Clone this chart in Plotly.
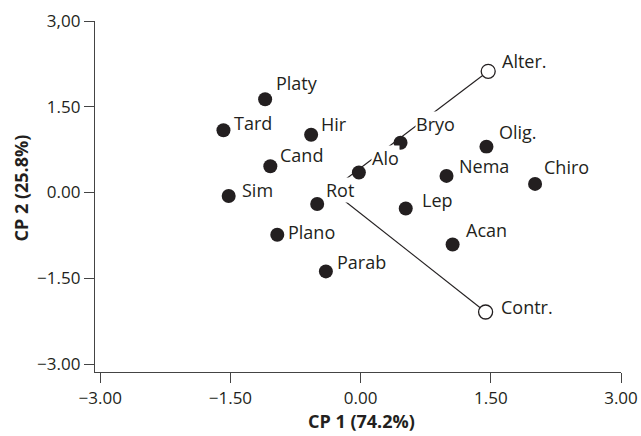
import plotly.graph_objects as go

# ---- data ----
taxa = ["Platy", "Tard", "Hir", "Cand", "Sim", "Rot", "Plano", "Parab",
        "Alo", "Bryo", "Olig.", "Nema", "Chiro", "Lep", "Acan"]
cp1 = [-1.10, -1.58, -0.57, -1.04, -1.52, -0.50, -0.96, -0.40,
       -0.02, 0.46, 1.45, 0.99, 2.01, 0.52, 1.06]
cp2 = [1.63, 1.09, 1.01, 0.46, -0.06, -0.20, -0.74, -1.38,
       0.35, 0.87, 0.80, 0.29, 0.15, -0.28, -0.91]

env = ["Alter.", "Contr."]
env_cp1 = [1.47, 1.44]
env_cp2 = [2.12, -2.09]
vec_origin = (-0.34, 0.04)

tick_vals = [-3.0, -1.5, 0.0, 1.5, 3.0]
x_tick_text = ["\u22123.00", "\u22121.50", "0.00", "1.50", "3.00"]
y_tick_text = ["\u22123.00", "\u22121.50", "0.00", "1.50", "3,00"]

# label offsets (pixels: right, down) -- layout only
lab_off = {
    "Platy": (10, -16), "Tard": (10, -7), "Hir": (9, -11), "Cand": (9, -11),
    "Sim": (12, -6), "Rot": (8, -14), "Plano": (10, -3), "Parab": (10, -9),
    "Alo": (12, -14), "Bryo": (14, -19), "Olig.": (12, -15), "Nema": (11, -10),
    "Chiro": (8, -17), "Lep": (15, -9), "Acan": (12, -15),
    "Alter.": (13, -10), "Contr.": (14, -5),
}

FONT = "Open Sans"
TXT = "#231f20"

fig = go.Figure()

for ex, ey in zip(env_cp1, env_cp2):
    fig.add_trace(go.Scatter(x=[vec_origin[0], ex], y=[vec_origin[1], ey],
                             mode="lines", line=dict(color="#231f20", width=1.1),
                             hoverinfo="skip", showlegend=False))

fig.add_trace(go.Scatter(x=cp1, y=cp2, mode="markers",
                         marker=dict(size=14, color="#231f20", line=dict(width=0)),
                         showlegend=False))
fig.add_trace(go.Scatter(x=env_cp1, y=env_cp2, mode="markers",
                         marker=dict(size=14, color="white",
                                     line=dict(width=1.3, color="#231f20")),
                         showlegend=False))

for name, x, y in list(zip(taxa, cp1, cp2)) + list(zip(env, env_cp1, env_cp2)):
    dx, dy = lab_off[name]
    fig.add_annotation(x=x, y=y, text=name, showarrow=False,
                       xanchor="left", yanchor="middle",
                       xshift=dx, yshift=-dy, bgcolor="white", borderpad=0,
                       font=dict(family=FONT, size=18, color=TXT))

# axis titles
fig.add_annotation(x=0.5, y=0, xref="paper", yref="paper", text="<b>CP 1 (74.2%)</b>",
                   showarrow=False, xanchor="center", yanchor="middle",
                   xshift=3, yshift=-49, font=dict(family=FONT, size=18, color=TXT))
fig.add_annotation(x=0, y=0.5, xref="paper", yref="paper", text="<b>CP 2 (25.8%)</b>",
                   showarrow=False, xanchor="center", yanchor="middle", textangle=-90,
                   xshift=-75, yshift=8, font=dict(family=FONT, size=18, color=TXT))

axis_common = dict(showline=True, linecolor="#444", linewidth=1.4,
                   ticks="outside", ticklen=10, tickwidth=1.4, tickcolor="#444",
                   showgrid=False, zeroline=False, mirror=False, automargin=False,
                   tickfont=dict(family=FONT, size=17, color=TXT),
                   tickvals=tick_vals)

fig.update_layout(
    width=641, height=436,
    margin=dict(l=95, r=20, t=21, b=64),
    paper_bgcolor="white", plot_bgcolor="white",
    xaxis=dict(range=[-3.06, 3.0], ticktext=x_tick_text, **axis_common),
    yaxis=dict(range=[-3.14, 3.0], ticktext=y_tick_text, **axis_common),
)

fig.write_html("out.html")
